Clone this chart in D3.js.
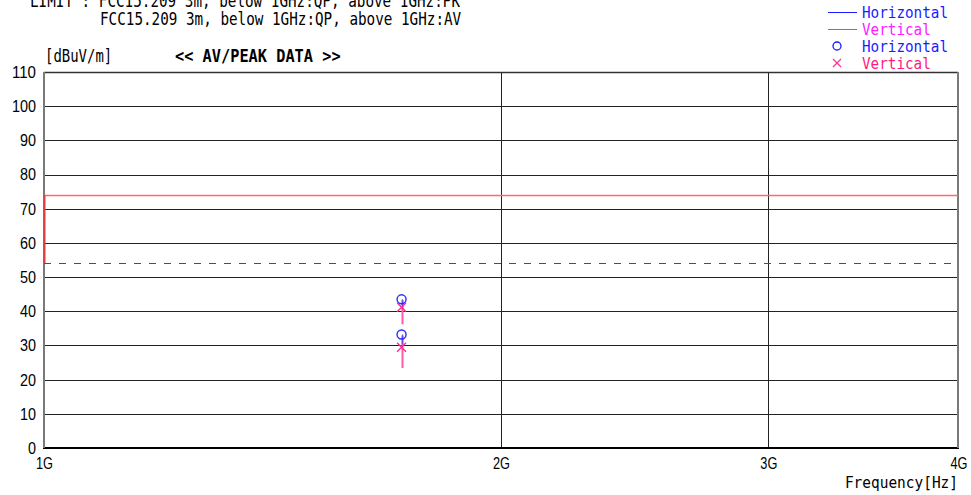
<!DOCTYPE html>
<html>
<head>
<meta charset="utf-8">
<script src="https://cdn.jsdelivr.net/npm/d3@7"></script>
<style>
  html, body { margin: 0; padding: 0; background: #fff; }
  svg { display: block; }
</style>
</head>
<body>
<svg id="chart" width="971" height="495"></svg>
<script>
// Limit lines (FCC 15.209, 3 m)
const limitFreqs = [1e9, 4e9];
const limitPeak = [74, 74];
const limitAv = [54, 54];

// Measured emissions at one frequency
const markFreqs = [1.72e9, 1.72e9];
const horizMarks = [43.5, 33.2];
const vertMarks = [41.2, 29.5];

// Trace segments at the measured frequency (top/bottom levels)
const horizTraceTop = [43.5, 33.2];
const horizTraceBottom = [40.6, 30.3];
const vertTraceTop = [43.2, 32.8];
const vertTraceBottom = [36.2, 23.4];

// Axes
const yTicks = [0, 10, 20, 30, 40, 50, 60, 70, 80, 90, 100, 110];
const xTicks = [1e9, 2e9, 3e9, 4e9];
const xTickLabels = ["1G", "2G", "3G", "4G"];

const limitLines = [
  "LIMIT : FCC15.209 3m, below 1GHz:QP, above 1GHz:PK",
  "FCC15.209 3m, below 1GHz:QP, above 1GHz:AV"
];

const svg = d3.select("#chart");
const M = { left: 44, right: 958, top: 72, bottom: 448 };

const x = d3.scaleLog().domain([1e9, 4e9]).range([M.left, M.right]);
const y = d3.scaleLinear().domain([0, 110]).range([M.bottom, M.top]);

const FONT = "'DejaVu Sans Mono', 'Liberation Mono', monospace";
const CW = 8.6;

function monoText(g, px, py, str, opt = {}) {
  const t = g.append("text")
    .attr("x", px).attr("y", py)
    .attr("font-family", FONT)
    .attr("font-size", opt.size || 17)
    .attr("font-weight", opt.weight || "normal")
    .attr("fill", opt.fill || "#000")
    .attr("text-anchor", opt.anchor || "start")
    .style("white-space", "pre")
    .text(str);
  t.attr("textLength", str.length * (opt.cw || CW))
   .attr("lengthAdjust", "spacingAndGlyphs");
  return t;
}

// Header text
monoText(svg, 30, 7, limitLines[0]);
monoText(svg, 100, 25, limitLines[1]);
monoText(svg, 45, 62, "[dBuV/m]", { cw: 8.4 });
monoText(svg, 175, 62, "<< AV/PEAK DATA >>", { weight: "bold", cw: 9.2, size: 18 });

// Horizontal grid
const grid = svg.append("g");
grid.selectAll("line.h").data(yTicks.slice(1, -1)).enter().append("line")
  .attr("x1", M.left).attr("x2", M.right)
  .attr("y1", d => Math.round(y(d)) + 0.5).attr("y2", d => Math.round(y(d)) + 0.5)
  .attr("stroke", "#222").attr("stroke-width", 1);

// Vertical grid at inner frequency marks
grid.selectAll("line.v").data(xTicks.slice(1, -1)).enter().append("line")
  .attr("x1", d => Math.round(x(d)) + 0.5).attr("x2", d => Math.round(x(d)) + 0.5)
  .attr("y1", M.top).attr("y2", M.bottom)
  .attr("stroke", "#222").attr("stroke-width", 1);

// Y axis
const yAxis = d3.axisLeft(y).tickValues(yTicks).tickSize(0).tickPadding(8);
const ya = svg.append("g").attr("transform", `translate(${M.left},0)`).call(yAxis);
ya.select(".domain").remove();
ya.selectAll("text")
  .attr("font-family", "'Liberation Sans', Arial, sans-serif")
  .attr("font-size", 17).attr("fill", "#000")
  .attr("textLength", d => String(d).length * 8)
  .attr("lengthAdjust", "spacingAndGlyphs");

// X axis
const xAxis = d3.axisBottom(x).tickValues(xTicks).tickSize(0).tickPadding(10)
  .tickFormat((d, i) => xTickLabels[i]);
const xa = svg.append("g").attr("transform", `translate(0,${M.bottom})`).call(xAxis);
xa.select(".domain").remove();
xa.selectAll("text")
  .attr("font-family", "'Liberation Sans', Arial, sans-serif")
  .attr("font-size", 16).attr("fill", "#000")
  .attr("textLength", 17).attr("lengthAdjust", "spacingAndGlyphs");
// last label sits flush with the right edge of the plot
xa.selectAll(".tick").filter(d => d === xTicks[xTicks.length - 1]).select("text")
  .attr("text-anchor", "end").attr("x", 9);

monoText(svg, 958, 488, "Frequency[Hz]", { anchor: "end", cw: 8.7, size: 16 });

// Frame
svg.append("line").attr("x1", M.left).attr("x2", M.right).attr("y1", M.top + 0.5).attr("y2", M.top + 0.5)
  .attr("stroke", "#333").attr("stroke-width", 1.5);
svg.append("line").attr("x1", M.left - 1).attr("x2", M.right + 1).attr("y1", M.bottom).attr("y2", M.bottom)
  .attr("stroke", "#000").attr("stroke-width", 2);
svg.append("line").attr("x1", M.left).attr("x2", M.left).attr("y1", M.top).attr("y2", M.bottom)
  .attr("stroke", "#7a7a7a").attr("stroke-width", 2);
svg.append("line").attr("x1", M.right).attr("x2", M.right).attr("y1", M.top).attr("y2", M.bottom)
  .attr("stroke", "#7a7a7a").attr("stroke-width", 2);

// Limit lines
const limLine = d3.line().x(d => x(d[0])).y(d => Math.round(y(d[1])) + 0.5);
svg.append("path").datum(d3.zip(limitFreqs, limitPeak)).attr("d", limLine)
  .attr("fill", "none").attr("stroke", "#ff6a6a").attr("stroke-width", 1.5);
svg.append("path").datum(d3.zip(limitFreqs, limitAv)).attr("d", limLine)
  .attr("fill", "none").attr("stroke", "#e01010").attr("stroke-width", 1.2)
  .attr("stroke-dasharray", "7,8");
svg.append("line")
  .attr("x1", x(limitFreqs[0]) + 0.5).attr("x2", x(limitFreqs[0]) + 0.5)
  .attr("y1", y(limitPeak[0])).attr("y2", y(limitAv[0]))
  .attr("stroke", "#e04040").attr("stroke-width", 2);

// Trace segments
const data = markFreqs.map((f, i) => ({
  f, h: horizMarks[i], v: vertMarks[i],
  hTop: horizTraceTop[i], hBot: horizTraceBottom[i],
  vTop: vertTraceTop[i], vBot: vertTraceBottom[i]
}));

const traces = svg.append("g");
traces.selectAll("line.vt").data(data).enter().append("line")
  .attr("x1", d => Math.round(x(d.f)) + 0.5).attr("x2", d => Math.round(x(d.f)) + 0.5)
  .attr("y1", d => y(d.vTop)).attr("y2", d => y(d.vBot))
  .attr("stroke", "#ff5aa8").attr("stroke-width", 2);
traces.selectAll("line.ht").data(data).enter().append("line")
  .attr("x1", d => Math.round(x(d.f)) + 0.5).attr("x2", d => Math.round(x(d.f)) + 0.5)
  .attr("y1", d => y(d.hTop)).attr("y2", d => y(d.hBot))
  .attr("stroke", "#5a3cff").attr("stroke-width", 1.5).attr("opacity", 0.85);

// Markers
const marks = svg.append("g");
marks.selectAll("circle").data(data).enter().append("circle")
  .attr("cx", d => x(d.f)).attr("cy", d => y(d.h)).attr("r", 4.5)
  .attr("fill", "none").attr("stroke", "#2a2aff").attr("stroke-width", 1.4);
const cross = 4.5;
marks.selectAll("path.x").data(data).enter().append("path")
  .attr("d", d => {
    const cx = x(d.f), cy = y(d.v);
    return `M${cx - cross},${cy - cross}L${cx + cross},${cy + cross}M${cx - cross},${cy + cross}L${cx + cross},${cy - cross}`;
  })
  .attr("fill", "none").attr("stroke", "#ff3090").attr("stroke-width", 1.4);

// Legend
const lg = svg.append("g");
const legend = [
  { type: "line", color: "#1a1aff", text: "Horizontal", tcol: "#1a1aff" },
  { type: "line", color: "#ff20ff", text: "Vertical", tcol: "#ff20ff" },
  { type: "circle", color: "#1a1aff", text: "Horizontal", tcol: "#1a1aff" },
  { type: "cross", color: "#ff3090", text: "Vertical", tcol: "#ff1a80" }
];
legend.forEach((d, i) => {
  const cy = 12 + i * 17;
  if (d.type === "line") {
    lg.append("line").attr("x1", 828).attr("x2", 857).attr("y1", cy + 0.5).attr("y2", cy + 0.5)
      .attr("stroke", d.color).attr("stroke-width", 1);
  } else if (d.type === "circle") {
    lg.append("circle").attr("cx", 837).attr("cy", cy).attr("r", 4)
      .attr("fill", "none").attr("stroke", d.color).attr("stroke-width", 1.3);
  } else {
    lg.append("path")
      .attr("d", `M${833},${cy - 4}L${841},${cy + 4}M${833},${cy + 4}L${841},${cy - 4}`)
      .attr("stroke", d.color).attr("stroke-width", 1.2);
  }
  monoText(lg, 862, cy + 6, d.text, { fill: d.tcol, size: 16 });
});
</script>
</body>
</html>
